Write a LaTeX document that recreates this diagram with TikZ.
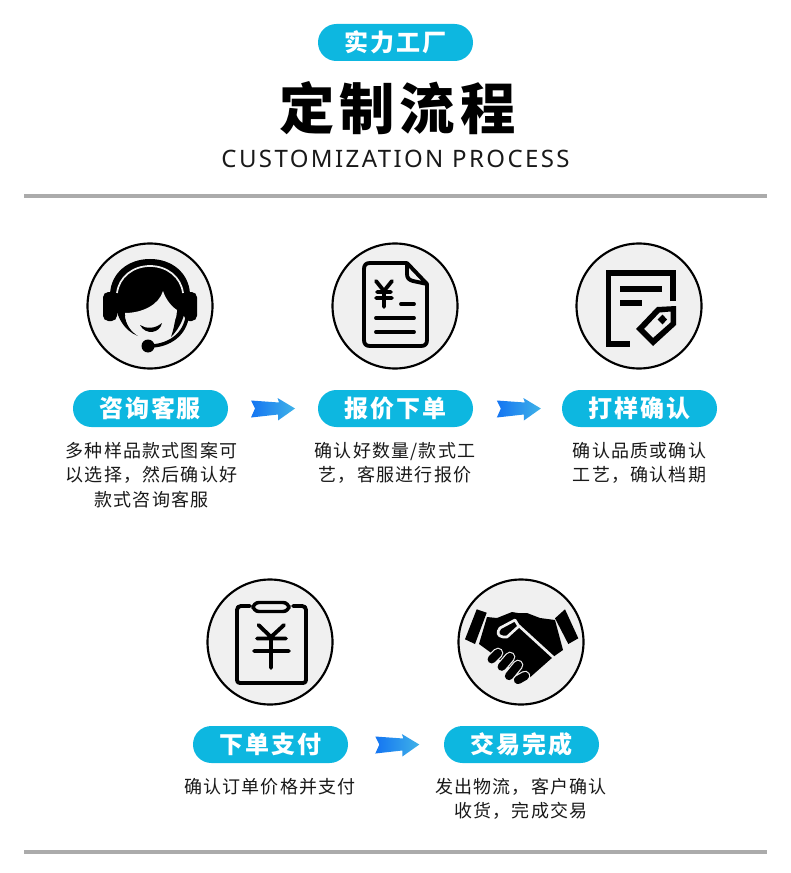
\documentclass[tikz,border=0pt]{standalone}
\usepackage{fontspec}
\usetikzlibrary{positioning}
\newfontfamily\cjktext[LetterSpace=6.7]{Noto Sans CJK SC}
\newfontfamily\cjkpill[LetterSpace=7]{Noto Sans CJK SC}
\newfontfamily\cjktitle[LetterSpace=9]{Noto Sans CJK SC}
\newfontfamily\latintitle[LetterSpace=10]{Noto Sans}
\definecolor{pillblue}{HTML}{0DB7E0}
\definecolor{iconbg}{HTML}{F0F0F0}
\definecolor{rulegray}{HTML}{ABABAB}
\definecolor{arrowleft}{HTML}{1475F2}
\definecolor{arrowright}{HTML}{3FB2E8}
\tikzset{
  stepcircle/.style={circle,draw=black,line width=1.6pt,fill=iconbg,minimum size=125*.75pt,inner sep=0pt},
  pill/.style={rectangle,fill=pillblue,rounded corners=13.8pt,minimum width=155*.75pt,minimum height=37*.75pt,inner sep=0pt,text=white,font=\fontsize{18}{20}\cjkpill\bfseries},
  desc/.style={align=center,inner sep=0pt,text=black!90,font=\fontsize{13.5}{18.4}\cjktext},
  iconline/.style={draw=black,line width=2.9pt,line cap=round,line join=round},
  toprule/.style={draw=rulegray,line width=2.7pt},
  flowarrow/.pic={
    \shade[left color=arrowleft,right color=arrowright]
      (-22,-8) -- (-18,0) -- (-22,9) -- (5,6) -- (5,12) -- (22,0) -- (4.5,-10.5) -- (6,-6) -- cycle;
  }
}
\begin{document}
\begin{tikzpicture}[x=.75pt,y=-.75pt]
  \useasboundingbox (0,0) rectangle (790,873);
  % heading
  \node[pill] (tagpill) at (395.5,42.5) {实力工厂};
  \node[inner sep=0pt,font=\fontsize{41.5}{44}\cjktitle\bfseries] (title) at (397.5,108) {定制流程};
  \node[inner sep=0pt,text=black!90,font=\fontsize{18}{20}\latintitle] (subtitle) at (395.5,159) {CUSTOMIZATION PROCESS};
  \coordinate (ruleAl) at (24,196);
  \coordinate (ruleAr) at (767,196);
  \coordinate (ruleBl) at (24,852);
  \coordinate (ruleBr) at (767,852);
  \draw[toprule] (ruleAl) -- (ruleAr);
  \draw[toprule] (ruleBl) -- (ruleBr);
  % circles
  \node[stepcircle] (ciA) at (150,306) {};
  \node[stepcircle] (ciB) at (395,306) {};
  \node[stepcircle] (ciC) at (639,306) {};
  \node[stepcircle] (ciD) at (270,642) {};
  \node[stepcircle] (ciE) at (521,642) {};
  % pills
  \node[pill] (pillA) at (150.5,408.5) {咨询客服};
  \node[pill] (pillB) at (395.5,408.5) {报价下单};
  \node[pill] (pillC) at (639.5,408.5) {打样确认};
  \node[pill] (pillD) at (270.5,744.5) {下单支付};
  \node[pill] (pillE) at (521.5,744.5) {交易完成};
  % texts under the pills
  \node[desc] (txtA) at (151.5,475) {多种样品款式图案可\\以选择，然后确认好\\款式咨询客服};
  \node[desc] (txtB) at (395,463) {确认好数量/款式工\\艺，客服进行报价};
  \node[desc] (txtC) at (639.5,463) {确认品质或确认\\工艺，确认档期};
  \node[desc] (txtD) at (270,787) {确认订单价格并支付};
  \node[desc] (txtE) at (521,799) {发出物流，客户确认\\收货，完成交易};
  % arrows between the pills
  \path (pillA.east) -- (pillB.west) coordinate[midway] (arAB);
  \path (pillB.east) -- (pillC.west) coordinate[midway] (arBC);
  \path (pillD.east) -- (pillE.west) coordinate[midway] (arDE);
  \pic at (arAB) {flowarrow};
  \pic at ([xshift=1pt]arBC) {flowarrow};
  \pic at ([xshift=1pt]arDE) {flowarrow};
  % headset icon
  \fill[black,rounded corners=4pt] (103,292) rectangle (117,321);
  \fill[black,rounded corners=4pt] (184,292) rectangle (197,321);
  \fill[black] (110,294) .. controls (111,273) and (128,259) .. (150,259) .. controls (172,259) and (189,273) .. (190,294) -- cycle;
  \fill[black] (114,292) -- (187,292) .. controls (187,315) and (180,328) .. (171,337) .. controls (176,322) and (177,312) .. (170,308)
    -- (125,316) .. controls (126,324) and (130,331) .. (138,336) .. controls (124,331) and (114,315) .. (114,292) -- cycle;
  \draw[iconbg,line width=1.3pt] (117,293) .. controls (119,277) and (133,266) .. (150,266) .. controls (167,266) and (181,277) .. (183,293);
  \fill[iconbg] (125,313) .. controls (142,313) and (159,305) .. (163,291) .. controls (166,300) and (172,307) .. (177,310)
    .. controls (177,325) and (165,339) .. (150,339) .. controls (135,339) and (125,325) .. (125,313) -- cycle;
  \fill[black] (140,325) .. controls (146,329) and (155,329) .. (162,323) .. controls (160,333) and (146,336) .. (140,325) -- cycle;
  \draw[black,line width=2.6pt,line cap=round] (150,346) .. controls (165,346) and (183,338) .. (187,318);
  \fill[black] (148,346) circle (6.5);
  % quotation icon
  \draw[iconline] (407,263) -- (370,263) .. controls (366,263) and (364,265) .. (364,269) -- (364,340) .. controls (364,344) and (366,346) .. (370,346)
    -- (421,346) .. controls (425,346) and (427,344) .. (427,340) -- (427,284) -- (407,263) -- (407,274) .. controls (407,278) and (409,280) .. (413,281) -- (427,284);
  \draw[iconline] (376,281) -- (384,291) -- (392,281) (377,292) -- (391,292) (376,298) -- (392,298) (384,291) -- (384,307);
  \draw[iconline] (401,304) -- (414,304);
  \draw[iconline] (376,318) -- (414,318);
  \draw[iconline] (376,332) -- (414,332);
  % form icon
  \draw[black,line width=4.4pt] (673,301) -- (673,273) -- (608.5,273) -- (608.5,344) -- (630,344);
  \fill[black] (620,286) rectangle (662,292);
  \fill[black] (620,299.5) rectangle (642,305.5);
  \fill[black,even odd rule] (676,306) -- (657,307) -- (636,329) -- (653,346) -- (676,325) -- cycle
    (670.5,311.5) -- (659.5,312.5) -- (644,329) -- (653,338) -- (670.5,322.5) -- cycle;
  \fill[black] (662.5,314.5) -- (667,319.5) -- (662.5,324.5) -- (657.5,319.5) -- cycle;
  % clipboard icon
  \draw[iconline] (250,606) -- (241,606) .. controls (238.5,606) and (237,607.5) .. (237,610) -- (237,680) .. controls (237,682) and (238,683) .. (240,683)
    -- (303,683) .. controls (305,683) and (306,682) .. (306,680) -- (306,610) .. controls (306,607.5) and (304.5,606) .. (302,606) -- (293,606);
  \draw[black,line width=2.6pt,rounded corners=4.5pt] (253,602.5) rectangle (289,611.5);
  \draw[iconline] (258.5,625) -- (271,637) -- (284,625) (257,638.5) -- (286,638.5) (254,651) -- (289,651) (271,637) -- (271,668);
  % handshake icon
  \fill[black] (476.7,609.3) -- (486.7,612.7) -- (475,644) -- (465,639.3) -- cycle;
  \fill[black] (565,609.3) -- (555,618.3) -- (568.3,644) -- (578.3,638.3) -- cycle;
  \fill[black] (487,617) -- (497,618) -- (512,612) -- (518,613) -- (527,613) -- (540,618) -- (555,620) -- (563,650) -- (553,657) -- (527,680) -- (510,668) -- (490,652) -- (479,644) -- cycle;
  \draw[iconbg,line width=2pt,line cap=round,line join=round] (553,657) -- (518,625) -- (515,620) -- (500,628) .. controls (497,632) and (497,636) .. (503,637) -- (507,637) -- (518,627);
  \draw[iconbg,line width=8pt,line cap=round] (491.7,659.3) -- (498,653) (501.7,666.7) -- (510,657) (509,676) -- (518,665) (518,680) -- (525,676);
  \draw[black,line width=6.2pt,line cap=round] (491.7,659.3) -- (498,653) (501.7,666.7) -- (510,657) (509,676) -- (518,665) (518,680) -- (525,676);
\end{tikzpicture}
\end{document}
